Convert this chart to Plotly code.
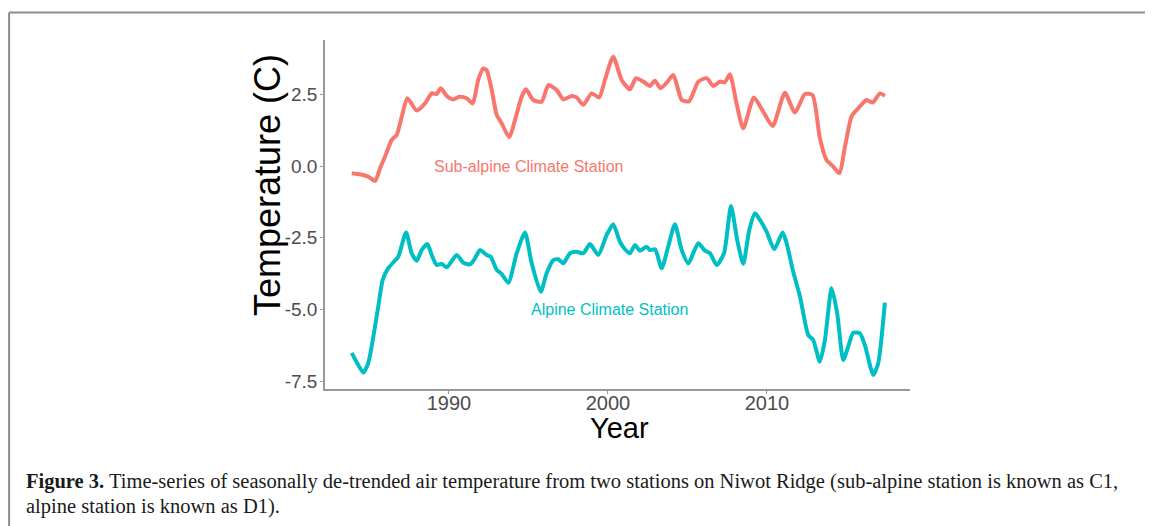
import plotly.graph_objects as go

# Sub-alpine station (C1)
sub_year = [1983.88, 1984.40, 1984.92, 1985.35, 1985.66, 1985.97, 1986.40, 1986.71, 1987.03, 1987.38,
            1987.97, 1988.49, 1988.91, 1989.23, 1989.48, 1989.86, 1990.27, 1990.65, 1991.11, 1991.49,
            1991.84, 1992.16, 1992.37, 1992.69, 1993.00, 1993.31, 1993.79, 1994.15, 1994.57, 1994.84,
            1995.30, 1995.83, 1996.25, 1996.77, 1997.19, 1997.72, 1998.03, 1998.45, 1998.97, 1999.45,
            1999.81, 2000.33, 2000.86, 2001.38, 2001.76, 2002.22, 2002.64, 2002.96, 2003.31, 2003.69,
            2004.11, 2004.64, 2005.11, 2005.68, 2006.21, 2006.62, 2007.04, 2007.36, 2007.67, 2008.09,
            2008.51, 2009.18, 2009.77, 2010.36, 2011.13, 2011.76, 2012.39, 2012.87, 2013.33, 2013.75,
            2014.17, 2014.55, 2014.91, 2015.33, 2015.74, 2016.27, 2016.65, 2017.11, 2017.42]
sub_temp = [-0.25, -0.29, -0.37, -0.52, -0.08, 0.32, 0.91, 1.08, 1.72, 2.36,
            1.93, 2.18, 2.53, 2.51, 2.71, 2.44, 2.32, 2.41, 2.36, 2.18,
            3.00, 3.40, 3.34, 2.65, 1.78, 1.49, 1.00, 1.60, 2.41, 2.67,
            2.30, 2.24, 2.82, 2.65, 2.32, 2.44, 2.39, 2.13, 2.53, 2.39,
            3.00, 3.81, 3.00, 2.67, 3.06, 2.94, 2.79, 2.97, 2.71, 2.90,
            3.17, 2.30, 2.26, 2.94, 3.06, 2.79, 2.94, 2.92, 3.20, 2.18,
            1.31, 2.39, 1.89, 1.39, 2.55, 1.86, 2.51, 2.47, 0.97, 0.21,
            -0.02, -0.25, 0.67, 1.74, 2.01, 2.30, 2.21, 2.53, 2.44]

# Alpine station (D1)
alp_year = [1983.88, 1984.23, 1984.61, 1984.92, 1985.24, 1985.55, 1985.83, 1986.18, 1986.54, 1986.81,
            1987.30, 1987.65, 1987.97, 1988.28, 1988.64, 1988.91, 1989.23, 1989.54, 1989.86, 1990.48,
            1990.90, 1991.32, 1991.57, 1991.95, 1992.37, 1992.62, 1993.00, 1993.31, 1993.73, 1994.26,
            1994.78, 1995.20, 1995.77, 1996.14, 1996.56, 1996.87, 1997.19, 1997.61, 1998.03, 1998.45,
            1998.87, 1999.39, 1999.92, 2000.33, 2000.75, 2001.07, 2001.38, 2001.70, 2002.01, 2002.43,
            2002.64, 2002.96, 2003.38, 2003.79, 2004.21, 2004.64, 2005.05, 2005.68, 2006.10, 2006.42,
            2006.84, 2007.30, 2007.74, 2008.13, 2008.51, 2008.89, 2009.25, 2009.56, 2009.98, 2010.46,
            2010.99, 2011.24, 2011.65, 2012.08, 2012.60, 2012.91, 2013.33, 2013.65, 2014.07, 2014.42,
            2014.80, 2015.11, 2015.43, 2015.85, 2016.16, 2016.69, 2017.00, 2017.42]
alp_temp = [-6.51, -6.87, -7.20, -6.87, -5.95, -4.90, -3.97, -3.56, -3.33, -3.16,
            -2.32, -3.04, -3.30, -2.93, -2.72, -3.10, -3.45, -3.41, -3.53, -3.10,
            -3.37, -3.43, -3.28, -2.93, -3.10, -3.16, -3.62, -3.76, -4.07, -3.04,
            -2.32, -3.39, -4.38, -3.74, -3.28, -3.25, -3.39, -3.04, -2.99, -3.04,
            -2.72, -3.10, -2.40, -2.03, -2.64, -2.90, -3.04, -2.75, -2.95, -2.81,
            -2.93, -2.90, -3.56, -2.81, -2.03, -2.93, -3.39, -2.69, -2.95, -3.04,
            -3.45, -3.04, -1.39, -2.58, -3.41, -2.23, -1.65, -1.88, -2.29, -2.90,
            -2.32, -2.69, -3.68, -4.55, -5.89, -6.06, -6.82, -6.06, -4.26, -5.13,
            -6.76, -6.30, -5.81, -5.83, -6.24, -7.28, -6.87, -4.76]

x_ticks = [1990, 2000, 2010]
y_ticks = [2.5, 0.0, -2.5, -5.0, -7.5]
y_tick_text = ["2.5", "0.0", "-2.5", "-5.0", "-7.5"]

RED = "#F8766D"
TEAL = "#00BFC4"
SANS = "Liberation Sans, Arial"
SERIF = "Liberation Serif, Times New Roman"

fig = go.Figure()
fig.add_trace(go.Scatter(x=sub_year, y=sub_temp, mode="lines",
                         line=dict(color=RED, width=4, shape="spline", smoothing=0.6),
                         showlegend=False, hoverinfo="skip"))
fig.add_trace(go.Scatter(x=alp_year, y=alp_temp, mode="lines",
                         line=dict(color=TEAL, width=4, shape="spline", smoothing=0.6),
                         showlegend=False, hoverinfo="skip"))

fig.add_annotation(x=1995.0, y=0.0, text="Sub-alpine Climate Station", showarrow=False,
                   font=dict(family=SANS, size=16, color=RED))
fig.add_annotation(x=2000.1, y=-5.0, text="Alpine Climate Station", showarrow=False,
                   font=dict(family=SANS, size=16, color=TEAL))

# axis titles
fig.add_annotation(xref="paper", yref="paper", x=0.5026, y=-0.113, text="Year", showarrow=False,
                   xanchor="center", yanchor="middle",
                   font=dict(family=SANS, size=29, color="black"))
fig.add_annotation(xref="paper", yref="paper", x=-0.099, y=0.5845, text="Temperature (C)",
                   showarrow=False, textangle=-90, xanchor="center", yanchor="middle",
                   font=dict(family=SANS, size=36, color="black"))

# caption
fig.add_annotation(xref="paper", yref="paper", x=-0.5145, y=-0.2664, xanchor="left", yanchor="middle",
                   text="<b>Figure 3.</b> Time-series of seasonally de-trended air temperature from two stations on Niwot Ridge (sub-alpine station is known as C1,",
                   showarrow=False, align="left",
                   font=dict(family=SERIF, size=20.5, color="#1a1a1a"))
fig.add_annotation(xref="paper", yref="paper", x=-0.5145, y=-0.336, xanchor="left", yanchor="middle",
                   text="alpine station is known as D1).",
                   showarrow=False, align="left",
                   font=dict(family=SERIF, size=20.5, color="#1a1a1a"))

# outer frame lines (left and top)
fig.add_shape(type="line", xref="paper", yref="paper", x0=-0.540, x1=-0.540, y0=1.079, y1=-0.45,
              line=dict(color="#8c8c8c", width=2))
fig.add_shape(type="line", xref="paper", yref="paper", x0=-0.540, x1=1.45, y0=1.079, y1=1.079,
              line=dict(color="#8c8c8c", width=2))

axis_font = dict(family=SANS, size=20, color="#4d4d4d")
fig.update_xaxes(range=[1982.2, 2019.0], tickvals=x_ticks, ticktext=[str(v) for v in x_ticks],
                 showgrid=False, zeroline=False, showline=True, linecolor="#999999", linewidth=1.5,
                 ticks="outside", ticklen=3, tickcolor="#999999", tickfont=axis_font,
                 ticklabelstandoff=-8)
fig.update_yaxes(range=[-7.77, 4.39], tickvals=y_ticks, ticktext=y_tick_text,
                 showgrid=False, zeroline=False, showline=True, linecolor="#999999", linewidth=1.5,
                 ticks="outside", ticklen=3, tickcolor="#999999", tickfont=dict(family=SANS, size=19, color="#4d4d4d"),
                 ticklabelstandoff=-1)

fig.update_layout(width=1145, height=518, autosize=False,
                  margin=dict(l=317, r=243, t=32, b=137),
                  paper_bgcolor="white", plot_bgcolor="white")

fig.write_html("out.html")
